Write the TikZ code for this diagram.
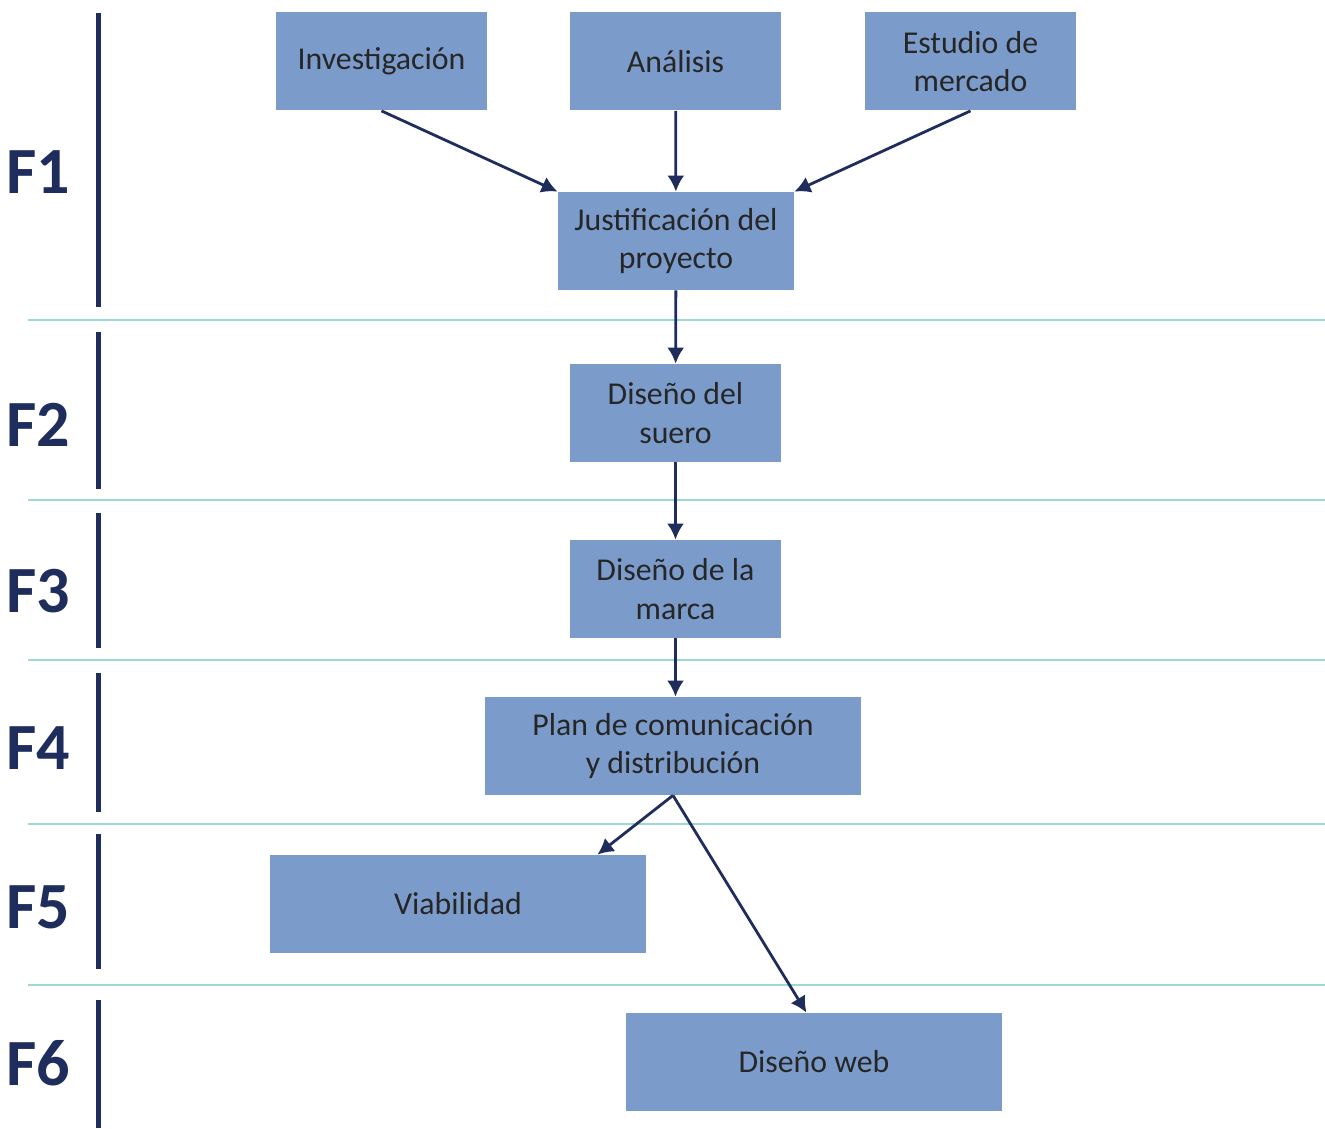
\documentclass[tikz,border=0pt]{standalone}
\usepackage{fontspec}
\setmainfont{Carlito}
\usetikzlibrary{arrows.meta,positioning,calc}
\usepackage{xcolor}
\definecolor{boxfill}{HTML}{7B9BCB}
\definecolor{navy}{HTML}{1F2D5C}
\definecolor{teal}{HTML}{9ED8D3}
\definecolor{ink}{HTML}{262626}
\tikzset{
  >={Latex[length=8pt,width=8.5pt]},
  every node/.style={text=ink},
  box/.style={fill=boxfill,draw=none,minimum height=49pt,minimum width=105.5pt,align=center,inner sep=0pt,font=\fontsize{15.9}{19.2}\selectfont},
  widebox/.style={box,minimum width=188pt},
  arrow/.style={->,line width=1.4pt,draw=navy},
  phase/.style={font=\fontsize{33}{36}\selectfont\bfseries,text=navy,inner sep=0pt},
  bar/.style={line width=2.5pt,draw=navy},
  sep/.style={line width=0.8pt,draw=teal},
}

\begin{document}
\begin{tikzpicture}[x=0.5pt,y=-0.5pt]
\useasboundingbox (0,0) rectangle (1325,1128);

% phase separators and bars
\foreach \y in {320,500,660,824,985}
  \draw[sep] (28,\y) -- (1325,\y);
\foreach \a/\b in {13/307,332/489,513/648,673/812,834/969,1000/1128}
  \draw[bar] (98,\a) -- (98,\b);

\node[phase] (f1) at (38,172) {F1};
\node[phase] (f2) at (38,425) {F2};
\node[phase] (f3) at (38,591) {F3};
\node[phase] (f4) at (38,748) {F4};
\node[phase] (f5) at (38,907) {F5};
\node[phase] (f6) at (38,1063) {F6};

% boxes
\node[box] (inv) at (381.5,61.5) {Investigación};
\node[box] (ana) at (675.5,61.5) {Análisis};
\node[box] (mer) at (970.5,61.5) {Estudio de\\mercado};
\node[box,minimum width=118pt] (jus) at (676,241) {Justificación del\\proyecto};
\node[box] (sue) at (675.5,413) {Diseño del\\suero};
\node[box] (mar) at (675.5,589) {Diseño de la\\marca};
\node[widebox] (plan) at (673,746) {Plan de comunicación\\y distribución};
\node[widebox] (via) at (458,904) {Viabilidad};
\node[widebox] (web) at (814,1062) {Diseño web};

\draw[arrow] (inv.south) -- (jus.north west);
\draw[arrow] (ana) -- (jus);
\draw[arrow] (mer.south) -- (jus.north east);
\draw[arrow] (jus) -- (sue);
\draw[arrow] (sue) -- (mar);
\draw[arrow] (mar) -- (mar |- plan.north);
\draw[arrow] (plan.south) -- ($(via.north west)!0.87!(via.north east)$);
\draw[arrow] (plan.south) -- ($(web.north west)!0.48!(web.north east)$);

\end{tikzpicture}
\end{document}
